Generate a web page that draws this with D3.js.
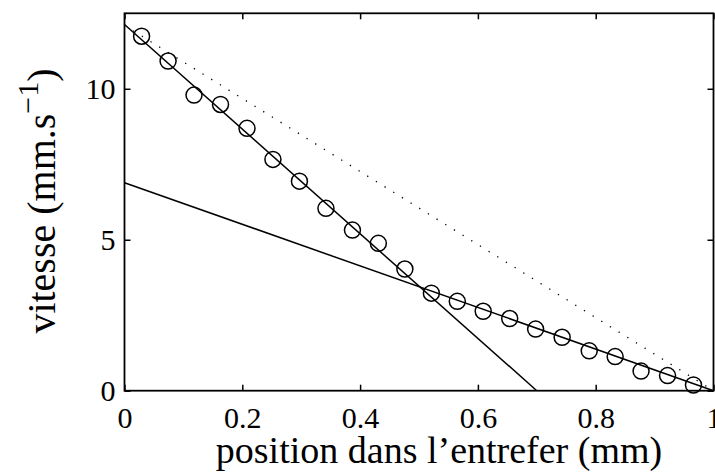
<!DOCTYPE html>
<html>
<head>
<meta charset="utf-8">
<script src="https://cdn.jsdelivr.net/npm/d3@7"></script>
<style>
  html, body { margin: 0; padding: 0; background: #fff; }
  svg { display: block; }
  text { font-family: "Liberation Serif", "Times New Roman", serif; fill: #000; }
</style>
</head>
<body>
<svg id="chart" width="715" height="475"></svg>
<script>
// ---- data ----
const position = [0.029, 0.074, 0.118, 0.163, 0.208, 0.252, 0.297, 0.342, 0.387, 0.431, 0.476,
                  0.521, 0.565, 0.609, 0.654, 0.698, 0.743, 0.789, 0.833, 0.877, 0.922, 0.966];
const vitesse  = [11.74, 10.92, 9.79, 9.48, 8.69, 7.66, 6.94, 6.04, 5.32, 4.88, 4.03,
                  3.23, 2.96, 2.63, 2.39, 2.04, 1.77, 1.32, 1.13, 0.65, 0.50, 0.19];
const fitSteepX = [0, 0.70];
const fitSteepY = [12.13, 0];
const fitShallowX = [0, 1];
const fitShallowY = [6.89, 0];
const dottedX = [0, 1];
const dottedY = [12.1, 0];
const xTicks = [0, 0.2, 0.4, 0.6, 0.8, 1];
const yTicks = [0, 5, 10];
const xLabel = "position dans l\u2019entrefer (mm)";

// ---- layout ----
const svg = d3.select("#chart");
const L = 124.5, R = 713.5, T = 13.3, B = 390.7;
const x = d3.scaleLinear().domain([0, 1]).range([L, R]);
const y = d3.scaleLinear().domain([0, 12.5]).range([B, T]);
const tickLen = 6;
const serif = "'Liberation Serif', 'Times New Roman', serif";

// lines
const line = d3.line().x(d => x(d[0])).y(d => y(d[1]));
const zip = (a, b) => a.map((v, i) => [v, b[i]]);

svg.append("path").datum(zip(dottedX, dottedY)).attr("d", line)
  .attr("fill", "none").attr("stroke", "#000").attr("stroke-width", 1.3)
  .attr("stroke-dasharray", "1.3 8.9");
svg.append("path").datum(zip(fitSteepX, fitSteepY)).attr("d", line)
  .attr("fill", "none").attr("stroke", "#000").attr("stroke-width", 1.5);
svg.append("path").datum(zip(fitShallowX, fitShallowY)).attr("d", line)
  .attr("fill", "none").attr("stroke", "#000").attr("stroke-width", 1.5);

// circles
svg.append("g").selectAll("circle").data(zip(position, vitesse)).join("circle")
  .attr("cx", d => x(d[0])).attr("cy", d => y(d[1])).attr("r", 8)
  .attr("fill", "none").attr("stroke", "#000").attr("stroke-width", 1.5);

// axes (inward ticks on all sides)
const gB = svg.append("g").attr("transform", `translate(0,${B})`)
  .call(d3.axisBottom(x).tickValues(xTicks).tickSizeInner(-tickLen).tickSizeOuter(0).tickPadding(20)
    .tickFormat(d => d3.format("~g")(d)));
const gT = svg.append("g").attr("transform", `translate(0,${T})`)
  .call(d3.axisTop(x).tickValues(xTicks).tickSizeInner(-tickLen).tickSizeOuter(0).tickFormat(""));
const gL = svg.append("g").attr("transform", `translate(${L},0)`)
  .call(d3.axisLeft(y).tickValues(yTicks).tickSizeInner(-tickLen).tickSizeOuter(0).tickPadding(9));
const gR = svg.append("g").attr("transform", `translate(${R},0)`)
  .call(d3.axisRight(y).tickValues(yTicks).tickSizeInner(-tickLen).tickSizeOuter(0).tickFormat(""));

[gB, gT, gL, gR].forEach(g => {
  g.attr("font-family", serif).attr("font-size", 30);
  g.select(".domain").remove();
  g.selectAll(".tick line").attr("stroke", "#000").attr("stroke-width", 1.5);
  g.selectAll("text").style("font-family", serif).style("font-size", "30px").attr("fill", "#000");
});
gB.selectAll(".tick text").attr("dy", "0.71em").attr("y", 16);

// frame
svg.append("rect").attr("x", L).attr("y", T).attr("width", R - L).attr("height", B - T)
  .attr("fill", "none").attr("stroke", "#000").attr("stroke-width", 1.8);

// axis labels
svg.append("text").attr("x", (L + R) / 2 + 20).attr("y", 463).attr("text-anchor", "middle")
  .style("font-size", "38px").text(xLabel);

const yl = svg.append("text").attr("transform", `translate(55,${(T + B) / 2 - 1}) rotate(-90)`)
  .attr("text-anchor", "middle").style("font-size", "40px");
yl.append("tspan").text("vitesse (mm.s");
yl.append("tspan").attr("dy", -17).style("font-size", "30px").text("\u22121");
yl.append("tspan").attr("dy", 17).text(")");
</script>
</body>
</html>
